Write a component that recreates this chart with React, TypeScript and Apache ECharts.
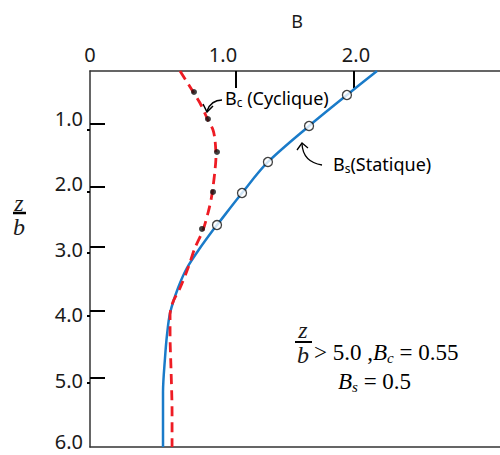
import React, { useEffect, useRef } from "react";
import * as echarts from "echarts";

// B_s (Statique) curve
const bsCurveB = [2.158, 1.932, 1.647, 1.338, 1.143, 0.955, 0.925, 0.827, 0.729, 0.662, 0.602, 0.579, 0.564, 0.549, 0.549];
const bsCurveZ = [0.283, 0.649, 1.121, 1.67, 2.143, 2.631, 2.707, 2.981, 3.286, 3.591, 3.972, 4.307, 4.658, 5.176, 6.015];
// B_s measured points (open circles)
const bsPointB = [1.932, 1.647, 1.338, 1.143, 0.955];
const bsPointZ = [0.649, 1.121, 1.67, 2.143, 2.631];
// B_c (Cyclique) curve
const bcCurveB = [0.677, 0.767, 0.827, 0.887, 0.925, 0.94, 0.947, 0.94, 0.925, 0.91, 0.887, 0.85, 0.789, 0.737, 0.677, 0.624, 0.602, 0.602, 0.609, 0.617, 0.617];
const bcCurveZ = [0.283, 0.573, 0.771, 1.03, 1.182, 1.335, 1.594, 1.792, 2.051, 2.249, 2.448, 2.707, 2.981, 3.286, 3.591, 3.804, 4.003, 4.307, 4.81, 5.481, 6.015];
// B_c measured points (filled dots)
const bcPointB = [0.782, 0.887, 0.955, 0.925, 0.842];
const bcPointZ = [0.603, 1.015, 1.518, 2.127, 2.691];

// Axis ticks / labels (tick positions as drawn in the picture)
const xLabelValues = [0, 1, 2];
const xTickValues = [1.098, 1.985];
const yLabelValues = [1, 2, 3, 4, 5, 6];
const yTickValues = [1.091, 2.051, 2.966, 3.942, 4.963];
const rightTickZ = [1.182, 2.127, 3.057, 4.018, 5.039];

const zip = (b: number[], z: number[]) => b.map((v, i) => [v, z[i]]);

const SANS = "'Noto Sans', 'Open Sans', sans-serif";
const SERIF = "'Liberation Serif', 'DejaVu Serif', serif";
const TXT = "#1a1a1a";

export default function App() {
  const ref = useRef<HTMLDivElement>(null);
  useEffect(() => {
    if (!ref.current) return;
    const chart = echarts.init(ref.current, undefined, { renderer: "svg" });
    const axisLineStyle = { color: "#333", width: 1.5 };
    const lastY = yLabelValues[yLabelValues.length - 1];
    const option: any = {
      animation: false,
      backgroundColor: "#fff",
      grid: { left: 90, right: 0, top: 71, bottom: 8, containLabel: false, outerBoundsMode: "none" },
      xAxis: [
        {
          type: "value",
          position: "top",
          min: 0,
          max: 3.083,
          axisLine: { show: true, onZero: false, lineStyle: axisLineStyle },
          axisTick: { show: true, inside: true, length: 17, customValues: xTickValues, lineStyle: { color: "#000", width: 2 } },
          axisLabel: {
            customValues: xLabelValues,
            formatter: (v: number) => (v === 0 ? "0" : v.toFixed(1)),
            fontSize: 20,
            fontFamily: SANS,
            color: TXT,
            margin: 7,
            hideOverlap: false,
          },
          splitLine: { show: false },
        },
        {
          type: "value",
          position: "bottom",
          min: 0,
          max: 3.083,
          axisLine: { show: true, onZero: false, lineStyle: axisLineStyle },
          axisTick: { show: false },
          axisLabel: { show: false },
          splitLine: { show: false },
        },
      ],
      yAxis: [
        {
          type: "value",
          inverse: true,
          min: 0.283,
          max: 6.015,
          axisLine: { show: true, onZero: false, lineStyle: axisLineStyle },
          axisTick: { show: true, inside: true, length: 15, customValues: yTickValues, lineStyle: { color: "#000", width: 2 } },
          axisLabel: {
            customValues: yLabelValues,
            formatter: (v: number) => (v === lastY ? `{last|${v.toFixed(1)}}` : v.toFixed(1)),
            fontSize: 20,
            fontFamily: SANS,
            color: TXT,
            margin: 7,
            hideOverlap: false,
            rich: {
              last: { fontSize: 20, fontFamily: SANS, color: TXT, padding: [0, 0, 10, 0] },
            },
          },
          splitLine: { show: false },
        },
        {
          type: "value",
          position: "right",
          inverse: true,
          min: 0.283,
          max: 6.015,
          axisLine: { show: false },
          axisTick: { show: true, inside: true, length: 3, customValues: rightTickZ, lineStyle: { color: "#000", width: 2 } },
          axisLabel: { show: false },
          splitLine: { show: false },
        },
      ],
      series: [
        {
          type: "line",
          data: zip(bsCurveB, bsCurveZ),
          smooth: 0.3,
          showSymbol: false,
          lineStyle: { color: "#1a7bc9", width: 2.5 },
          z: 2,
        },
        {
          type: "scatter",
          data: zip(bsPointB, bsPointZ),
          symbol: "circle",
          symbolSize: 9,
          itemStyle: { color: "#fff", borderColor: "#111", borderWidth: 1.3 },
          z: 5,
        },
        {
          type: "line",
          data: zip(bcCurveB, bcCurveZ),
          smooth: 0.3,
          showSymbol: false,
          lineStyle: { color: "#ee1c24", width: 2.8, type: [10, 6] },
          z: 3,
        },
        {
          type: "scatter",
          data: zip(bcPointB, bcPointZ),
          symbol: "circle",
          symbolSize: 6,
          itemStyle: { color: "#111" },
          z: 6,
        },
      ],
      graphic: [
        { type: "text", x: 297, y: 21, style: { text: "B", font: `18px ${SANS}`, fill: TXT, textAlign: "center", textVerticalAlign: "middle" } },
        // z/b axis title
        { type: "text", x: 19, y: 203, style: { text: "z", font: `italic 24px ${SERIF}`, fill: TXT, textAlign: "center", textVerticalAlign: "middle" } },
        { type: "line", shape: { x1: 13, y1: 213, x2: 26, y2: 213 }, style: { stroke: "#000", lineWidth: 2.5 } },
        { type: "text", x: 19, y: 227, style: { text: "b", font: `italic 24px ${SERIF}`, fill: TXT, textAlign: "center", textVerticalAlign: "middle" } },
        // series labels
        {
          type: "text",
          x: 225,
          y: 98,
          style: {
            text: "{n|B}{s|c}{n| (Cyclique)}",
            textVerticalAlign: "middle",
            rich: {
              n: { fontSize: 18, fontFamily: SANS, color: TXT, lineHeight: 20 },
              s: { fontSize: 12, fontFamily: SANS, color: TXT, verticalAlign: "bottom", lineHeight: 16 },
            },
          },
        },
        {
          type: "text",
          x: 333,
          y: 164,
          style: {
            text: "{n|B}{s|s}{n|(Statique)}",
            textVerticalAlign: "middle",
            rich: {
              n: { fontSize: 18, fontFamily: SANS, color: TXT, lineHeight: 20 },
              s: { fontSize: 12, fontFamily: SANS, color: TXT, verticalAlign: "bottom", lineHeight: 16 },
            },
          },
        },
        // arrows
        { type: "bezierCurve", shape: { x1: 222, y1: 100, x2: 207, y2: 111, cpx1: 211, cpy1: 100 }, style: { stroke: "#000", lineWidth: 1.5, fill: "none" } },
        { type: "polyline", shape: { points: [[203, 104], [207, 112], [213, 106]] }, style: { stroke: "#000", lineWidth: 1.5, fill: "none" } },
        { type: "bezierCurve", shape: { x1: 322, y1: 165, x2: 302, y2: 144, cpx1: 303, cpy1: 162 }, style: { stroke: "#000", lineWidth: 1.3, fill: "none" } },
        { type: "polyline", shape: { points: [[297, 150], [302, 143], [308, 148]] }, style: { stroke: "#000", lineWidth: 1.3, fill: "none" } },
        // equation
        { type: "text", x: 303, y: 330, style: { text: "z", font: `italic 24px ${SERIF}`, fill: TXT, textAlign: "center", textVerticalAlign: "middle" } },
        { type: "line", shape: { x1: 295, y1: 342, x2: 312, y2: 342 }, style: { stroke: "#000", lineWidth: 2 } },
        { type: "text", x: 303, y: 355, style: { text: "b", font: `italic 24px ${SERIF}`, fill: TXT, textAlign: "center", textVerticalAlign: "middle" } },
        {
          type: "text",
          x: 314,
          y: 352,
          style: {
            text: "{n|> 5.0 ,}{i|B}{s|c}{n| = 0.55}",
            textVerticalAlign: "middle",
            rich: {
              n: { fontSize: 23, fontFamily: SERIF, color: TXT, lineHeight: 26 },
              i: { fontSize: 23, fontFamily: SERIF, fontStyle: "italic", color: TXT, lineHeight: 26 },
              s: { fontSize: 15, fontFamily: SERIF, fontStyle: "italic", color: TXT, verticalAlign: "bottom", lineHeight: 20 },
            },
          },
        },
        {
          type: "text",
          x: 338,
          y: 381,
          style: {
            text: "{i|B}{s|s}{n| = 0.5}",
            textVerticalAlign: "middle",
            rich: {
              n: { fontSize: 23, fontFamily: SERIF, color: TXT, lineHeight: 26 },
              i: { fontSize: 23, fontFamily: SERIF, fontStyle: "italic", color: TXT, lineHeight: 26 },
              s: { fontSize: 15, fontFamily: SERIF, fontStyle: "italic", color: TXT, verticalAlign: "bottom", lineHeight: 20 },
            },
          },
        },
      ],
    };
    chart.setOption(option);
    return () => chart.dispose();
  }, []);
  return <div ref={ref} style={{ position: "absolute", left: 0, top: 0, width: 500, height: 455 }} />;
}
